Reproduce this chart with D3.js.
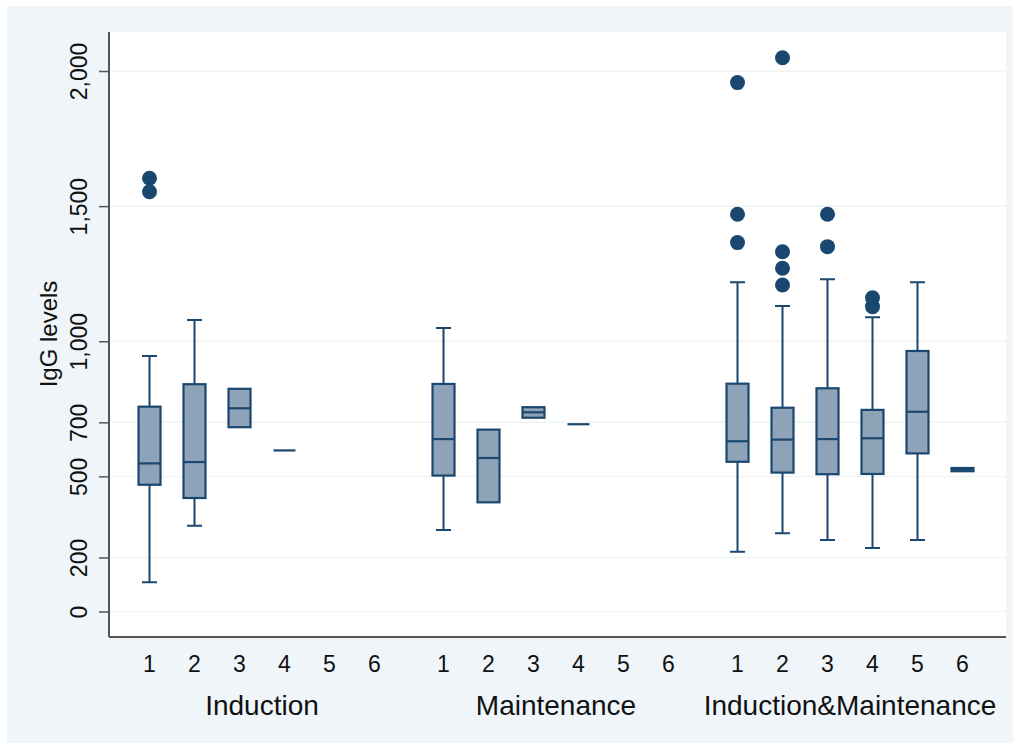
<!DOCTYPE html>
<html>
<head>
<meta charset="utf-8">
<script src="https://cdn.jsdelivr.net/npm/d3@7"></script>
<style>
  body { margin: 0; background: #fff; }
  text { font-family: "Liberation Sans", Arial, sans-serif; fill: #111; }
</style>
</head>
<body>
<div id="chart"></div>
<script>
// groups and box categories
const groupNames = ["Induction", "Maintenance", "Induction&Maintenance"];
const boxLabels = ["1", "2", "3", "4", "5", "6"];
const yTicks = [0, 200, 500, 700, 1000, 1500, 2000];

// box stats, 6 per group (null = no data)
const whiskerLows  = [108, 317, 682, 596, null, null,  302, 404, 717, 693, null, null,  221, 290, 265, 235, 265, 519];
const q1s          = [469, 420, 682, 596, null, null,  503, 404, 717, 693, null, null,  554, 514, 508, 509, 585, 519];
const medians      = [548, 553, 752, 596, null, null,  638, 568, 737, 693, null, null,  630, 636, 638, 641, 739, 525];
const q3s          = [758, 841, 824, 596, null, null,  842, 673, 756, 693, null, null,  843, 754, 826, 746, 964, 531];
const whiskerHighs = [945, 1079, 824, 596, null, null, 1049, 673, 756, 693, null, null, 1218, 1130, 1229, 1089, 1218, 531];
const outliers = [
  [1603, 1553], [], [], [], [], [],
  [], [], [], [], [], [],
  [1957, 1470, 1365], [2049, 1331, 1270, 1208], [1470, 1350], [1161, 1128], [], []
];

const W = 1018, H = 745;
const plot = { left: 109, right: 1006, top: 32, bottom: 637 };
const navy = "#1a476f", boxFill = "#8fa3b8";

const svg = d3.select("#chart").append("svg")
  .attr("width", W).attr("height", H);

// outer graph region
svg.append("rect").attr("x", 7).attr("y", 6).attr("width", 1006).attr("height", 737)
  .attr("fill", "#eff5f8");
svg.append("rect").attr("x", plot.left).attr("y", plot.top)
  .attr("width", plot.right - plot.left).attr("height", plot.bottom - plot.top)
  .attr("fill", "#fff");

const y = d3.scaleLinear().domain([0, 2000]).range([611.5, 71]);

const xGroup = d3.scaleBand().domain(groupNames).range([115, 997]);
const xBox = d3.scalePoint().domain(boxLabels).range([0, xGroup.bandwidth()]).padding(0.767);

// grid lines
svg.append("g").selectAll("line").data(yTicks).enter().append("line")
  .attr("x1", plot.left).attr("x2", plot.right)
  .attr("y1", d => y(d)).attr("y2", d => y(d))
  .attr("stroke", "#f0f3f3").attr("stroke-width", 1.5);

// y axis
const yAxis = svg.append("g")
  .attr("transform", `translate(${plot.left},0)`)
  .call(d3.axisLeft(y).tickValues(yTicks).tickFormat(d3.format(",")).tickSize(10).tickSizeOuter(0));
yAxis.select(".domain").remove();
yAxis.selectAll(".tick line").attr("stroke", "#555").attr("stroke-width", 1.5);
yAxis.selectAll(".tick text")
  .attr("x", 0).attr("dy", 0)
  .attr("text-anchor", "middle")
  .attr("transform", "translate(-22,0) rotate(-90)")
  .style("font-size", "23px").style("fill", "#111");

svg.append("line").attr("x1", plot.left).attr("x2", plot.left)
  .attr("y1", plot.top).attr("y2", plot.bottom)
  .attr("stroke", "#555").attr("stroke-width", 2);
svg.append("line").attr("x1", plot.left).attr("x2", plot.right)
  .attr("y1", plot.bottom).attr("y2", plot.bottom)
  .attr("stroke", "#555").attr("stroke-width", 2);

svg.append("text")
  .attr("transform", "translate(57,334) rotate(-90)")
  .attr("text-anchor", "middle")
  .style("font-size", "24px")
  .text("IgG levels");

// boxes
const boxes = [];
groupNames.forEach((g, gi) => {
  boxLabels.forEach((b, bi) => {
    const k = gi * boxLabels.length + bi;
    boxes.push({
      group: g, label: b,
      lo: whiskerLows[k], q1: q1s[k], med: medians[k], q3: q3s[k], hi: whiskerHighs[k],
      out: outliers[k]
    });
  });
});
const cx = d => xGroup(d.group) + xBox(d.label);

// x tick labels and group labels
svg.append("g").selectAll("text").data(boxes).enter().append("text")
  .attr("x", cx).attr("y", 672)
  .attr("text-anchor", "middle")
  .style("font-size", "23px")
  .text(d => d.label);
svg.append("g").selectAll("text").data(groupNames).enter().append("text")
  .attr("x", d => xGroup(d) + xGroup.bandwidth() / 2).attr("y", 715)
  .attr("text-anchor", "middle")
  .style("font-size", "28px")
  .text(d => d);

const present = boxes.filter(d => d.med !== null);
const bw = 22, capW = 15;
const gBox = svg.append("g");

// whiskers
gBox.selectAll(".whisk").data(present).enter().append("path")
  .attr("class", "whisk")
  .attr("fill", "none").attr("stroke", navy).attr("stroke-width", 2)
  .attr("d", d => {
    const x = cx(d);
    let p = "";
    if (d.hi > d.q3) p += `M${x},${y(d.q3)}V${y(d.hi)}M${x - capW / 2},${y(d.hi)}H${x + capW / 2}`;
    if (d.lo < d.q1) p += `M${x},${y(d.q1)}V${y(d.lo)}M${x - capW / 2},${y(d.lo)}H${x + capW / 2}`;
    return p || null;
  });

// box bodies
gBox.selectAll(".box").data(present.filter(d => d.q3 > d.q1)).enter().append("rect")
  .attr("class", "box")
  .attr("x", d => cx(d) - bw / 2).attr("width", bw)
  .attr("y", d => y(d.q3)).attr("height", d => y(d.q1) - y(d.q3))
  .attr("fill", boxFill).attr("stroke", navy).attr("stroke-width", 2.2);

// medians
gBox.selectAll(".med").data(present).enter().append("line")
  .attr("class", "med")
  .attr("x1", d => cx(d) - bw / 2).attr("x2", d => cx(d) + bw / 2)
  .attr("y1", d => y(d.med)).attr("y2", d => y(d.med))
  .attr("stroke", navy).attr("stroke-width", 2.2);

// outliers
const outPts = [];
boxes.forEach(d => d.out.forEach(v => outPts.push({ x: cx(d), v: v })));
gBox.selectAll(".out").data(outPts).enter().append("circle")
  .attr("cx", d => d.x).attr("cy", d => y(d.v)).attr("r", 7.5)
  .attr("fill", navy);
</script>
</body>
</html>
